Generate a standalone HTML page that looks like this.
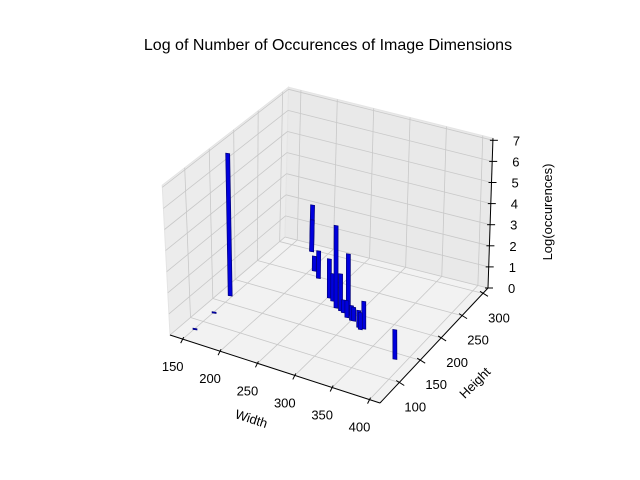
<!DOCTYPE html>
<html><head><meta charset="utf-8"><style>
html,body{margin:0;padding:0;background:#fff;}
svg{display:block;font-family:"Liberation Sans",sans-serif;}
</style></head><body>
<svg id="chart" width="640" height="480" viewBox="0 0 640 480">
<text x="328" y="50" text-anchor="middle" font-size="16">Log of Number of Occurences of Image Dimensions</text>
<g id="g"></g>
</svg>
<script>
const widths  = [147,151,151,179,179,205,218,252,259,270,278,283,291,292,300,303,315,319,322,386];
const heights = [166, 80,123,297,297,260,248,216,212,201,198,196,194,189,186,186,177,174,177,139];
const logOcc  = [6.75,0.05,0.05,2.2,1.5,0.7,1.3,1.85,1.3,3.9,1.75,0.6,2.9,0.8,0.7,0.65,0.8,0.8,1.3,1.4];
const xTicks = [150,200,250,300,350,400];
const yTicks = [100,150,200,250,300];
const zTicks = [0,1,2,3,4,5,6,7];

const XMIN=133,XMAX=414,YMIN=54,YMAX=312,ZMAX=7.1,ZPX=21.1;
const FL=[170,335],FR=[380,403],BR=[488,288],BL=[285,237];
const SH=[-1.1,-0.3,0.7,0.5]; // per-unit horizontal drift at FL,FR,BR,BL
function proj(x,y,z){
  const u=(x-XMIN)/(XMAX-XMIN), v=(y-YMIN)/(YMAX-YMIN);
  const a=(1-u)*(1-v),b=u*(1-v),c=u*v,d=(1-u)*v;
  const X=FL[0]*a+FR[0]*b+BR[0]*c+BL[0]*d;
  const Y=FL[1]*a+FR[1]*b+BR[1]*c+BL[1]*d;
  const s=SH[0]*a+SH[1]*b+SH[2]*c+SH[3]*d;
  return [X+z*s, Y-z*ZPX];
}
const g=document.getElementById('g');
const NS='http://www.w3.org/2000/svg';
function el(tag,attrs,parent){const e=document.createElementNS(NS,tag);for(const k in attrs)e.setAttribute(k,attrs[k]);(parent||g).appendChild(e);return e;}
function poly(pts){return pts.map(p=>p[0].toFixed(1)+','+p[1].toFixed(1)).join(' ');}

let p=el('polygon',{points:poly([proj(XMIN,YMIN,0),proj(XMIN,YMAX,0),proj(XMIN,YMAX,ZMAX),proj(XMIN,YMIN,ZMAX)]),fill:'#ececec',stroke:'#e4e4e4'});

p=el('polygon',{points:poly([proj(XMIN,YMAX,0),proj(XMAX,YMAX,0),proj(XMAX,YMAX,ZMAX),proj(XMIN,YMAX,ZMAX)]),fill:'#e9e9e9',stroke:'#e4e4e4'});

p=el('polygon',{points:poly([proj(XMIN,YMIN,0),proj(XMAX,YMIN,0),proj(XMAX,YMAX,0),proj(XMIN,YMAX,0)]),fill:'#f2f2f2',stroke:'#e8e8e8'});


function line(a,b,col,w,name){const l=el('line',{x1:a[0],y1:a[1],x2:b[0],y2:b[1],stroke:col,'stroke-width':w});return l;}
const GC='#c8c8c8';
xTicks.forEach(t=>{
  line(proj(t,YMIN,0),proj(t,YMAX,0),GC,0.8,'grid-floor-x');
  line(proj(t,YMAX,0),proj(t,YMAX,ZMAX),GC,0.8,'grid-back-x');
});
yTicks.forEach(t=>{
  line(proj(XMIN,t,0),proj(XMAX,t,0),GC,0.8,'grid-floor-y');
  line(proj(XMIN,t,0),proj(XMIN,t,ZMAX),GC,0.8,'grid-left-y');
});
zTicks.forEach(t=>{
  line(proj(XMIN,YMIN,t),proj(XMIN,YMAX,t),GC,0.8,'grid-left-z');
  line(proj(XMIN,YMAX,t),proj(XMAX,YMAX,t),GC,0.8,'grid-back-z');
});

line(proj(XMIN,YMIN,0),proj(XMAX,YMIN,0),'#000',1,'x-axis-line');
line(proj(XMAX,YMIN,0),proj(XMAX,YMAX,0),'#000',1,'y-axis-line');
line(proj(XMAX,YMAX,0),proj(XMAX,YMAX,ZMAX),'#000',1,'z-axis-line');

function txt(x,y,s,name,extra){const t=el('text',Object.assign({x:x,y:y,'font-size':'13','text-anchor':'middle'},extra||{}));t.textContent=s;return t;}
xTicks.forEach(t=>{
  const q=proj(t,YMIN,0);
  line([q[0]+1,q[1]-2],[q[0]-2,q[1]+4],'#000',1,'x-tick');
  txt(q[0]-10,q[1]+32,String(t),'x-tick-label');
});
yTicks.forEach(t=>{
  const q=proj(XMAX,t,0);
  line([q[0]-3,q[1]-2],[q[0]+5,q[1]+3],'#000',1,'y-tick');
  txt(q[0]+16,q[1]+29,String(t),'y-tick-label');
});
zTicks.forEach(t=>{
  const q=proj(XMAX,YMAX,t);
  line([q[0]-3,q[1]],[q[0]+5,q[1]],'#000',1,'z-tick');
  txt(q[0]+20,q[1]+5,String(t),'z-tick-label',{'text-anchor':'start'});
});
txt(250,423,'Width','x-axis-title',{transform:'rotate(18 250 423)'});
txt(478,386,'Height','y-axis-title',{transform:'rotate(-45 478 386)'});
txt(552,212,'Log(occurences)','z-axis-title',{transform:'rotate(-90 552 212)'});

const idx=widths.map((_,i)=>i).sort((a,b)=>(heights[b]-heights[a])||(widths[a]-widths[b]));
idx.forEach(i=>{
  const b=proj(widths[i],heights[i],0), t=proj(widths[i],heights[i],logOcc[i]);
  const pts=[[b[0]-2,b[1]],[b[0]+2,b[1]+0.6],[t[0]+2,t[1]+0.6],[t[0]-2,t[1]-Math.min(1.2,0)]];
  if(b[1]-t[1]<1.2){pts[2]=[b[0]+2,b[1]-0.6];pts[3]=[b[0]-2,b[1]-1.2];}
  const r=el('polygon',{points:poly(pts),fill:'#0000dd',stroke:'#00007a','stroke-width':0.7});
  
  
});
</script>
</body></html>
